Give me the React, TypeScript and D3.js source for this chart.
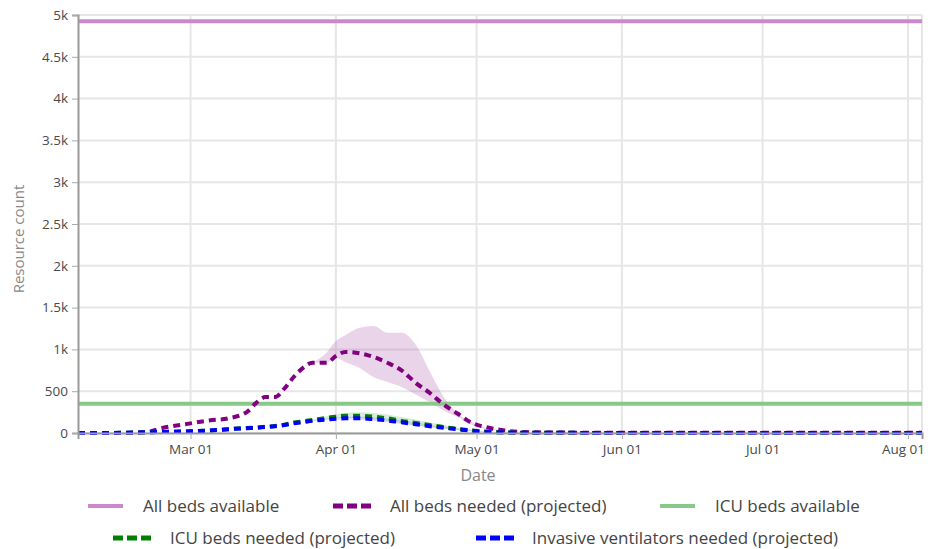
import React, { useEffect, useRef } from 'react'
import * as d3 from 'd3'

// Data
const dates = [
  '2020-02-06', '2020-02-15', '2020-02-20', '2020-02-24', '2020-03-01', '2020-03-05',
  '2020-03-09', '2020-03-13', '2020-03-15', '2020-03-17', '2020-03-19', '2020-03-21',
  '2020-03-23', '2020-03-25', '2020-03-27', '2020-03-30', '2020-04-01', '2020-04-03',
  '2020-04-06', '2020-04-09', '2020-04-12', '2020-04-15', '2020-04-18', '2020-04-21',
  '2020-04-24', '2020-04-27', '2020-04-30', '2020-05-03', '2020-05-07', '2020-05-11',
  '2020-05-18', '2020-06-01', '2020-08-04'
]
const allBedsNeeded = [
  0, 0, 5, 60, 115, 150, 175, 250, 360, 430, 430, 530,
  670, 780, 840, 840, 920, 970, 955, 910, 840, 750, 600, 480,
  340, 230, 120, 70, 30, 12, 5, 3, 3
]
const allBedsUpper = [
  0, 0, 5, 60, 115, 150, 175, 250, 360, 430, 430, 530,
  670, 780, 840, 960, 1100, 1170, 1260, 1280, 1200, 1200, 1060, 740,
  430, 230, 125, 65, 30, 12, 5, 3, 3
]
const allBedsLower = [
  0, 0, 5, 60, 115, 150, 175, 250, 360, 430, 430, 530,
  670, 780, 840, 840, 900, 850, 780, 670, 610, 550, 460, 370,
  270, 190, 100, 50, 20, 8, 4, 3, 3
]
const icuNeeded = [
  0, 2, 8, 12, 20, 30, 45, 60, 65, 75, 85, 100,
  125, 140, 155, 180, 195, 205, 205, 195, 175, 145, 120, 95,
  70, 50, 30, 15, 6, 3, 2, 1, 1
]
const icuUpper = [
  0, 2, 8, 12, 20, 30, 45, 60, 65, 75, 85, 100,
  125, 140, 160, 200, 225, 240, 248, 240, 220, 190, 160, 125,
  95, 65, 40, 20, 8, 3, 2, 1, 1
]
const icuLower = [
  0, 2, 8, 12, 20, 30, 45, 60, 65, 75, 85, 100,
  125, 140, 150, 165, 175, 180, 175, 160, 140, 115, 90, 70,
  50, 35, 20, 10, 4, 2, 1, 1, 1
]
const ventNeeded = [
  0, 2, 8, 12, 20, 30, 45, 58, 62, 72, 80, 95,
  115, 130, 145, 160, 170, 175, 175, 165, 150, 128, 105, 82,
  62, 44, 27, 14, 6, 3, 2, 1, 1
]
const ventUpper = [
  0, 2, 8, 12, 20, 30, 45, 58, 62, 72, 80, 95,
  115, 130, 150, 172, 185, 192, 195, 185, 172, 150, 125, 100,
  78, 55, 34, 17, 7, 3, 2, 1, 1
]
const ventLower = [
  0, 2, 8, 12, 20, 30, 45, 58, 62, 72, 80, 95,
  115, 130, 140, 150, 155, 158, 155, 145, 130, 108, 88, 68,
  50, 35, 21, 11, 5, 2, 1, 1, 1
]
const allBedsAvailable = 4925
const icuBedsAvailable = 350
const yTicks = [0, 500, 1000, 1500, 2000, 2500, 3000, 3500, 4000, 4500, 5000]
const xTicks = ['2020-03-01', '2020-04-01', '2020-05-01', '2020-06-01', '2020-07-01', '2020-08-01']

const W = 928
const H = 549
const margin = { top: 15, right: 6, bottom: 116, left: 78 }
const font = '"Open Sans", Lato, sans-serif'

const App = () => {
  const ref = useRef<SVGSVGElement>(null)

  useEffect(() => {
    const svg = d3.select(ref.current)
    svg.selectAll('*').remove()
    const w = W - margin.left - margin.right
    const h = H - margin.top - margin.bottom
    const parse = d3.utcParse('%Y-%m-%d')
    const ds = dates.map(d => parse(d) as Date)

    const x = d3.scaleUtc()
      .domain([parse('2020-02-06') as Date, parse('2020-08-04') as Date])
      .range([0, w])
    const y = d3.scaleLinear().domain([0, 5000]).range([h, 0])

    const g = svg.append('g').attr('transform', `translate(${margin.left},${margin.top})`)

    // grid
    g.selectAll('.hg').data(yTicks).enter().append('line')
      .attr('x1', 0).attr('x2', w)
      .attr('y1', d => y(d)).attr('y2', d => y(d))
      .attr('stroke', '#e6e6e6').attr('stroke-width', 2)
    g.selectAll('.vg').data(xTicks).enter().append('line')
      .attr('x1', d => x(parse(d) as Date)).attr('x2', d => x(parse(d) as Date))
      .attr('y1', 0).attr('y2', h)
      .attr('stroke', '#e6e6e6').attr('stroke-width', 2)
    g.append('line').attr('x1', w).attr('x2', w).attr('y1', 0).attr('y2', h)
      .attr('stroke', '#e6e6e6').attr('stroke-width', 2)

    // bands
    const band = (up: number[], lo: number[], color: string, op: number) => {
      const area = d3.area<number>()
        .x(i => x(ds[i]))
        .y0(i => y(lo[i]))
        .y1(i => y(up[i]))
        .curve(d3.curveMonotoneX)
      g.append('path').datum(d3.range(ds.length)).attr('d', area)
        .attr('fill', color).attr('fill-opacity', op)
    }
    band(allBedsUpper, allBedsLower, '#a855a8', 0.25)
    band(icuUpper, icuLower, '#3a9a3a', 0.2)
    band(ventUpper, ventLower, '#4040ff', 0.15)

    // available lines
    g.append('line').attr('x1', 0).attr('x2', w)
      .attr('y1', y(allBedsAvailable)).attr('y2', y(allBedsAvailable))
      .attr('stroke', '#cc88cc').attr('stroke-width', 4)
    g.append('line').attr('x1', 0).attr('x2', w)
      .attr('y1', y(icuBedsAvailable)).attr('y2', y(icuBedsAvailable))
      .attr('stroke', '#88c888').attr('stroke-width', 4)

    // projected lines
    const line = (vals: number[], color: string) => {
      const l = d3.line<number>()
        .x(i => x(ds[i]))
        .y(i => y(vals[i]))
        .curve(d3.curveMonotoneX)
      g.append('path').datum(d3.range(ds.length)).attr('d', l)
        .attr('fill', 'none').attr('stroke', color).attr('stroke-width', 4)
        .attr('stroke-dasharray', '7,5')
    }
    line(allBedsNeeded, '#800080')
    line(icuNeeded, '#008000')
    line(ventNeeded, '#0000ff')

    // axes
    const yAxis = g.append('g')
      .call(d3.axisLeft(y).tickValues(yTicks).tickSize(6).tickPadding(4)
        .tickFormat(d => (+d === 0 ? '0' : +d < 1000 ? String(d) : `${+d / 1000}k`)))
    const xAxis = g.append('g').attr('transform', `translate(0,${h})`)
      .call(d3.axisBottom(x).tickValues(xTicks.map(d => parse(d) as Date)).tickSize(6).tickPadding(5)
        .tickFormat(d => d3.utcFormat('%b %d')(d as Date)))
    ;[yAxis, xAxis].forEach(a => {
      a.select('.domain').attr('stroke', '#999').attr('stroke-width', 2)
      a.selectAll('.tick line').attr('stroke', '#aaa')
      a.selectAll('text').attr('fill', '#4a4a4a').style('font-family', font).style('font-size', '13.5px')
    })
    // keep the last date label inside the frame
    xAxis.selectAll<SVGTextElement, Date>('.tick text')
      .filter((d, i, n) => i === n.length - 1)
      .attr('dx', -5)

    // titles
    svg.append('text')
      .attr('transform', `translate(24,239) rotate(-90)`)
      .attr('text-anchor', 'middle').attr('fill', '#888')
      .style('font-family', font).style('font-size', '15px')
      .text('Resource count')
    svg.append('text')
      .attr('x', 478).attr('y', 481)
      .attr('text-anchor', 'middle').attr('fill', '#888')
      .style('font-family', font).style('font-size', '16px')
      .text('Date')

    // legend
    const legend = [
      { label: 'All beds available', color: '#cc88cc', dash: false, sx: 88, tx: 143, y: 506 },
      { label: 'All beds needed (projected)', color: '#800080', dash: true, sx: 333, tx: 390, y: 506 },
      { label: 'ICU beds available', color: '#88c888', dash: false, sx: 660, tx: 715, y: 506 },
      { label: 'ICU beds needed (projected)', color: '#008000', dash: true, sx: 113, tx: 170, y: 538 },
      { label: 'Invasive ventilators needed (projected)', color: '#0000ff', dash: true, sx: 476, tx: 532, y: 538 }
    ]
    const lg = svg.append('g')
    legend.forEach(d => {
      lg.append('line')
        .attr('x1', d.sx).attr('x2', d.dash ? d.sx + 38 : d.sx + 35)
        .attr('y1', d.y).attr('y2', d.y)
        .attr('stroke', d.color).attr('stroke-width', d.dash ? 5 : 4)
        .attr('stroke-dasharray', d.dash ? '10,4' : null)
      lg.append('text').attr('x', d.tx).attr('y', d.y + 6)
        .attr('fill', '#444').style('font-family', font).style('font-size', '17px')
        .text(d.label)
    })
  }, [])

  return (
    <svg ref={ref} width={W} height={H} style={{ position: 'absolute', left: 0, top: 0, background: '#fff' }} />
  )
}

export default App
